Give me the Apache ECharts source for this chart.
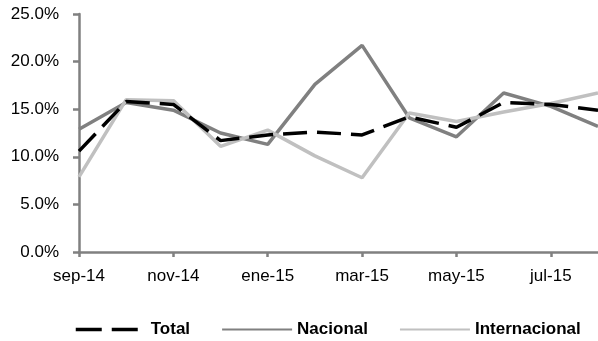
<!DOCTYPE html>
<html><head><meta charset="utf-8">
<script src="https://cdn.jsdelivr.net/npm/echarts@6/dist/echarts.min.js"></script>
<style>html,body{margin:0;padding:0;background:#fff}#c{width:598px;height:341px}</style>
</head><body><div id="c"></div>
<script>
var categories = ['sep-14','oct-14','nov-14','dic-14','ene-15','feb-15','mar-15','abr-15','may-15','jun-15','jul-15','ago-15'];
var total = [10.6, 15.8, 15.5, 11.7, 12.3, 12.6, 12.3, 14.2, 13.1, 15.7, 15.5, 14.9];
var nacional = [12.9, 15.7, 14.9, 12.5, 11.3, 17.6, 21.7, 14.1, 12.1, 16.7, 15.3, 13.2];
var internacional = [7.9, 16.0, 15.9, 11.1, 12.8, 10.1, 7.8, 14.6, 13.7, 14.7, 15.6, 16.7];
var yTicks = [0, 5, 10, 15, 20, 25];

var font = '"Liberation Sans", Arial, sans-serif';
var chart = echarts.init(document.getElementById('c'), null, {renderer: 'canvas'});
chart.setOption({
  animation: false,
  grid: {left: 79, right: -3, top: 14, bottom: 89, containLabel: false},
  legend: {
    top: 316, left: 69,
    itemWidth: 70, itemHeight: 18, itemGap: 31,
    itemStyle: {opacity: 0},
    textStyle: {fontFamily: font, fontSize: 17, fontWeight: 'bold', color: '#000'},
    data: [
      {name: 'Total', lineStyle: {type: [26, 10, 26, 8], width: 3.5, color: '#000'}},
      'Nacional',
      'Internacional'
    ]
  },
  xAxis: {
    type: 'category', data: categories, boundaryGap: false,
    axisLine: {lineStyle: {color: '#808080', width: 2.5}},
    axisTick: {show: true, interval: 1, length: 5, lineStyle: {color: '#808080', width: 2.5}},
    axisLabel: {interval: 1, margin: 16, fontFamily: font, fontSize: 17, color: '#000'},
    splitLine: {show: false}
  },
  yAxis: {
    type: 'value', min: yTicks[0], max: yTicks[yTicks.length - 1], interval: 5,
    axisLine: {show: true, lineStyle: {color: '#808080', width: 2.5}},
    axisTick: {show: true, length: 6, lineStyle: {color: '#808080', width: 2.5}},
    axisLabel: {margin: 20, fontFamily: font, fontSize: 17, color: '#000',
      formatter: function (v) { return v.toFixed(1) + '%'; }},
    splitLine: {show: false}
  },
  series: [
    {name: 'Total', type: 'line', data: total, symbol: 'none', z: 5,
     lineStyle: {color: '#000', width: 3.5, type: [24, 10]}, itemStyle: {color: '#000'}},
    {name: 'Nacional', type: 'line', data: nacional, symbol: 'none', z: 3,
     lineStyle: {color: '#808080', width: 3.5}, itemStyle: {color: '#808080'}},
    {name: 'Internacional', type: 'line', data: internacional, symbol: 'none', z: 4,
     lineStyle: {color: '#c0c0c0', width: 3.5}, itemStyle: {color: '#c0c0c0'}}
  ]
});
</script></body></html>
